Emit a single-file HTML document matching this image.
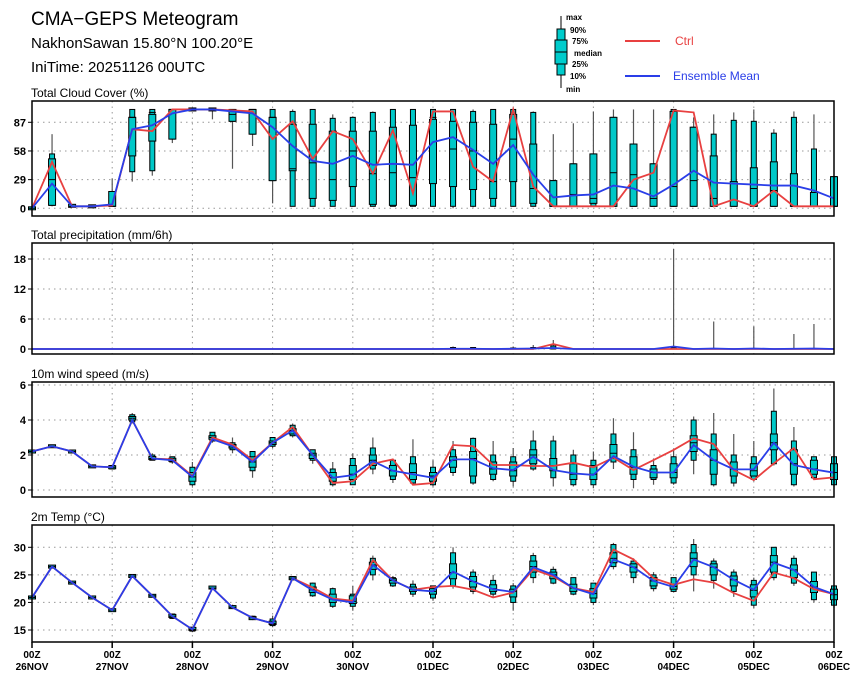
<!DOCTYPE html>
<html><head><meta charset="utf-8"><style>
body{margin:0;background:#fff;}
svg{display:block;font-family:"Liberation Sans",sans-serif;}
</style></head><body>
<svg id="chart" width="860" height="680" viewBox="0 0 860 680" xmlns="http://www.w3.org/2000/svg">
<text x="31" y="25" font-size="19">CMA−GEPS Meteogram</text>
<text x="31" y="48" font-size="15">NakhonSawan 15.80°N 100.20°E</text>
<text x="31" y="72" font-size="15">IniTime: 20251126 00UTC</text>
<g>
<line x1="561" y1="16" x2="561" y2="88" stroke="#000"/>
<rect x="557" y="29" width="8" height="46" fill="#00cccc" stroke="#000"/>
<rect x="555" y="40" width="12" height="24" fill="#00cccc" stroke="#000"/>
<line x1="555" y1="52" x2="567" y2="52" stroke="#000"/>
<g font-size="8" font-weight="bold">
<text x="566" y="20">max</text><text x="570" y="33">90%</text><text x="572" y="44">75%</text>
<text x="574" y="56">median</text><text x="572" y="67">25%</text><text x="570" y="79">10%</text><text x="566" y="92">min</text></g>
</g>
<line x1="625" y1="41" x2="660" y2="41" stroke="#e84040" stroke-width="2"/>
<text x="675" y="45" font-size="12" fill="#e84040">Ctrl</text>
<line x1="625" y1="76" x2="660" y2="76" stroke="#2a3ee8" stroke-width="2"/>
<text x="673" y="80" font-size="12" fill="#2a3ee8">Ensemble Mean</text>
</svg>
<script>
const dayLabels=["26NOV","27NOV","28NOV","29NOV","30NOV","01DEC","02DEC","03DEC","04DEC","05DEC","06DEC"];
const cloudTicks=[0,29,58,87];
const precipTicks=[0,6,12,18];
const windTicks=[0,2,4,6];
const tempTicks=[15,20,25,30];

const cloudCtrl=[0,47,2,2,3,80,78,100,100,100,99,98,70,88,50,78,70,35,79,15,98,98,42,27,100,22,2,2,2,2,29,36,99,97,2,9,2,18,2,2,2];
const cloudMean=[0,25,2,2,4,80,84,96,100,100,98,96,82,63,48,45,53,44,45,44,67,72,59,45,64,34,11,13,14,23,20,12,24,38,26,25,24,23,23,18,10];
const cloudMin=[0,2,2,2,2,27,33,66,100,90,40,63,5,2,2,2,2,2,2,2,2,0,1,2,2,2,2,2,2,2,2,2,2,2,2,2,2,2,2,2,2];
const cloudP10=[0,3,2,2,2,37,38,70,100,100,88,75,28,2,2,2,2,2,2,2,2,2,2,2,2,2,2,2,2,2,2,2,2,2,2,2,2,2,2,2,2];
const cloudP25=[0,3,2,2,2,53,68,70,100,100,88,75,28,38,10,8,22,4,3,3,25,22,19,10,27,5,2,2,5,2,2,2,2,2,2,2,2,2,2,2,2];
const cloudMed=[0,29,2,2,2,92,97,100,100,100,95,100,92,40,46,29,58,35,36,31,92,60,58,27,70,20,2,14,10,36,34,10,22,28,10,25,20,18,2,2,2];
const cloudP75=[0,50,3,2,17,92,95,100,100,100,100,100,92,85,85,78,78,78,82,84,90,88,87,85,95,65,28,45,55,92,65,45,98,82,53,27,41,47,35,16,32];
const cloudP90=[0,55,3,2,17,100,100,100,100,100,100,100,100,98,100,91,92,97,100,100,100,100,98,100,100,97,28,45,55,92,65,45,100,82,75,89,88,76,92,60,32];
const cloudMax=[0,75,3,2,30,100,100,100,100,100,100,100,100,100,100,95,93,98,100,100,100,100,100,100,100,98,75,86,98,100,100,100,100,92,95,97,100,80,98,95,32];

const precCtrl=[0,0,0,0,0,0,0,0,0,0,0,0,0,0,0,0,0,0,0,0,0,0,0,0,0,0,1.0,0,0,0,0,0,0,0,0,0,0,0,0,0,0];
const precMean=[0,0,0,0,0,0,0,0,0,0,0,0,0,0,0,0,0,0,0,0,0,0.05,0.05,0,0.05,0.1,0.2,0,0,0,0,0,0.5,0,0.1,0,0.1,0,0.05,0.1,0];
const precP90=[0,0,0,0,0,0,0,0,0,0,0,0,0,0,0,0,0,0,0,0,0,0.3,0.3,0,0.2,0.3,0.6,0,0,0,0,0,0.3,0,0,0,0,0,0,0,0];
const precMax=[0,0,0,0,0,0,0,0,0,0,0,0,0,0,0,0,0,0,0,0,0,0.5,0.4,0,0.5,0.8,1.8,0,0,0,0,0,20,0,5.5,0,4.5,0,3,5,0];

const windCtrl=[2.2,2.5,2.2,1.35,1.3,4.0,1.8,1.75,0.8,3.0,2.6,1.7,2.7,3.6,2.0,0.4,0.5,1.5,1.75,0.3,0.4,2.57,2.5,1.43,1.43,1.37,1.37,1.56,1.3,1.85,1.14,1.71,2.29,2.95,2.63,1.14,0.57,1.52,2.4,0.61,0.72];
const windMean=[2.2,2.5,2.2,1.35,1.3,4.0,1.8,1.7,0.75,2.9,2.5,1.6,2.7,3.4,2.0,0.7,0.85,1.65,1.1,0.9,0.7,1.75,1.75,1.24,1.14,1.9,1.14,0.95,0.86,1.94,1.33,1.0,1.0,2.57,1.71,1.18,1.18,2.7,1.43,1.18,0.99];
const windMin=[2.2,2.5,2.2,1.35,1.2,3.8,1.7,1.5,0.2,2.7,2.1,0.7,2.4,3.0,1.5,0.2,0.3,0.9,0.4,0.3,0.2,0.8,0.3,0.5,0.2,1.1,0.2,0.2,0.1,1.2,0.1,0.3,0.3,0.9,0.2,0.2,0.5,1.4,0.2,0.6,0.2];
const windP10=[2.2,2.5,2.2,1.35,1.2,3.9,1.7,1.6,0.3,2.8,2.3,1.1,2.5,3.1,1.7,0.3,0.3,1.2,0.6,0.4,0.3,1.0,0.4,0.6,0.5,1.2,0.7,0.3,0.3,1.6,0.6,0.6,0.4,1.7,0.3,0.4,0.6,1.5,0.3,0.7,0.3];
const windP25=[2.2,2.5,2.2,1.35,1.25,4.0,1.75,1.65,0.5,2.9,2.4,1.3,2.6,3.2,1.8,0.5,0.6,1.4,0.8,0.6,0.5,1.3,0.8,0.9,0.8,1.5,1.1,0.6,0.6,1.8,0.9,0.7,0.7,2.2,0.9,0.8,0.8,2.3,0.9,0.9,0.6];
const windMed=[2.2,2.5,2.2,1.35,1.3,4.1,1.8,1.7,0.75,3.0,2.5,1.6,2.7,3.4,2.0,0.7,0.9,1.7,1.1,1.0,0.8,1.7,1.8,1.2,1.1,2.0,1.4,0.9,0.9,2.1,1.3,1.0,1.0,2.7,1.7,1.2,1.1,2.7,1.5,1.2,1.0];
const windP75=[2.2,2.5,2.2,1.35,1.35,4.2,1.9,1.8,1.0,3.1,2.6,1.9,2.8,3.5,2.1,1.0,1.4,2.0,1.4,1.5,1.0,1.9,2.2,1.6,1.6,2.3,1.8,1.5,1.4,2.6,1.9,1.2,1.5,3.1,2.3,1.6,1.5,3.2,2.3,1.7,1.5];
const windP90=[2.2,2.5,2.2,1.35,1.4,4.3,2.0,1.9,1.3,3.3,2.7,2.2,3.0,3.7,2.3,1.2,1.8,2.4,1.7,1.9,1.3,2.3,2.95,2.0,1.9,2.8,2.8,2.0,1.7,3.2,2.3,1.4,1.9,4.0,3.2,2.0,1.9,4.5,2.8,1.9,1.9];
const windMax=[2.2,2.5,2.2,1.35,1.4,4.4,2.1,1.9,1.6,3.3,3.0,2.2,3.0,3.8,2.3,1.6,2.1,3.0,1.8,2.9,1.7,2.8,3.0,2.8,2.4,3.4,3.1,2.3,2.2,4.1,3.3,1.8,2.3,4.2,4.4,3.2,2.8,5.8,3.6,1.9,1.9];

const tempCtrl=[20.9,26.5,23.6,20.9,18.6,24.8,21.2,17.5,15.1,22.6,19.1,17.2,16.2,24.4,22.7,20.7,20.3,27.7,24.0,22.3,22.8,23.0,22.3,20.9,21.8,26.0,24.7,22.6,21.9,29.6,27.8,24.4,23.2,24.2,23.6,21.7,20.3,25.4,24.4,22.4,21.5];
const tempMean=[20.9,26.5,23.6,20.9,18.6,24.8,21.2,17.5,15.1,22.6,19.1,17.2,16.2,24.4,22.2,20.5,20.0,26.8,24.0,22.3,22.0,25.6,23.8,22.4,21.9,26.4,25.0,22.6,21.5,27.8,26.4,23.9,22.8,27.8,26.4,24.1,22.3,27.2,25.9,22.8,21.5];
const tempMin=[20.9,26.5,23.6,20.9,18.6,24.8,21.2,17.0,14.6,22.4,18.8,16.8,15.5,24.0,21.0,19.0,18.5,24.0,22.8,21.0,20.3,22.5,21.5,21.0,18.5,23.5,23.3,21.3,19.5,26.0,23.5,22.0,21.8,22.0,22.5,21.0,19.0,24.0,23.0,20.0,19.0];
const tempP10=[20.9,26.5,23.6,20.9,18.6,24.8,21.2,17.1,14.8,22.5,18.9,16.9,15.8,24.1,21.2,19.3,19.3,25.0,23.0,21.5,20.8,23.0,22.0,21.5,20.0,24.5,23.5,21.5,20.0,26.5,24.5,22.5,22.0,25.0,24.0,22.0,19.5,24.5,23.5,20.5,19.5];
const tempP25=[20.9,26.5,23.6,20.9,18.6,24.8,21.2,17.3,15.0,22.6,19.0,17.0,16.0,24.2,21.8,20.0,19.8,26.0,23.5,22.0,21.5,24.3,22.8,22.0,21.0,25.5,24.3,22.0,20.8,27.2,25.5,23.0,22.4,26.5,25.0,23.0,21.0,25.5,24.5,21.8,20.5];
const tempMed=[20.9,26.5,23.6,20.9,18.6,24.8,21.2,17.5,15.1,22.6,19.1,17.2,16.2,24.4,22.3,20.6,20.2,26.8,24.0,22.4,22.0,25.4,23.8,22.5,22.0,26.5,25.0,22.6,21.6,28.0,26.4,23.9,22.9,28.0,26.4,24.1,22.2,27.3,25.9,22.8,21.4];
const tempP75=[20.9,26.5,23.6,20.9,18.6,24.8,21.2,17.8,15.4,22.8,19.3,17.3,16.6,24.6,22.8,21.5,21.2,27.3,24.3,22.8,22.5,27.0,24.7,23.2,22.4,27.5,25.5,23.3,22.5,29.0,27.0,24.5,23.3,29.0,27.0,24.8,23.2,28.5,26.8,23.8,22.4];
const tempP90=[20.9,26.5,23.6,20.9,18.6,24.8,21.2,17.9,15.5,22.9,19.4,17.5,17.0,24.7,23.5,22.5,21.5,28.0,24.5,23.3,23.0,29.0,25.5,24.0,23.0,28.5,26.0,24.5,23.5,30.5,27.5,25.0,24.5,30.5,27.5,25.5,24.0,30.0,28.0,25.5,23.0];
const tempMax=[20.9,26.5,23.6,20.9,18.6,24.8,21.2,18.0,15.6,23.0,19.6,17.6,17.6,24.8,23.6,22.7,23.0,28.5,24.8,24.0,23.0,30.0,26.0,25.0,23.5,29.0,26.5,24.5,23.5,30.8,28.0,25.5,24.5,31.5,28.0,26.0,24.5,30.0,28.5,25.5,23.0];

const NS="http://www.w3.org/2000/svg";
const svg=document.getElementById("chart");
const X0=32,X1=834;
function xAt(i){return X0+(X1-X0)*i/40;}
function mk(tag,attrs,parent){const e=document.createElementNS(NS,tag);for(const k in attrs)e.setAttribute(k,attrs[k]);(parent||svg).appendChild(e);return e;}

function panel(cfg){
  const g=mk("g",{});
  
  
  const y=v=>cfg.y0-(v-cfg.v0)*(cfg.y0-cfg.y1)/(cfg.v1-cfg.v0);
  const t=mk("text",{x:31,y:cfg.top-4,"font-size":12},g);
  t.textContent=cfg.title;
  
  
  // grid
  for(let d=1;d<10;d++){mk("line",{x1:xAt(d*4),x2:xAt(d*4),y1:cfg.top,y2:cfg.bot,stroke:"#999","stroke-dasharray":"1.5,4"},g);}
  cfg.ticks.forEach(v=>{
    mk("line",{x1:X0,x2:X1,y1:y(v),y2:y(v),stroke:"#999","stroke-dasharray":"1.5,4"},g);
    mk("line",{x1:X0-4,x2:X0,y1:y(v),y2:y(v),stroke:"#000"},g);
    const l=mk("text",{x:X0-6,y:y(v)+4,"font-size":11,"font-weight":"bold","text-anchor":"end"},g);
    l.textContent=v;
    
    
  });
  // boxes
  for(let i=0;i<41;i++){
    const x=xAt(i);
    const bg=mk("g",{},g);
    
    
    if(cfg.max[i]>cfg.min[i]) mk("line",{x1:x,x2:x,y1:y(cfg.max[i]),y2:y(cfg.min[i]),stroke:"#555","stroke-width":1.2},bg);
    if(cfg.p90){
      let a=y(cfg.p90[i]),b=y(cfg.p10[i]); if(b-a<2){const m=(a+b)/2;a=m-1;b=m+1;}
      mk("rect",{x:x-2.5,y:a,width:5,height:b-a,fill:"#00c8c8",stroke:"#000","stroke-width":1},bg);
      let c=y(cfg.p75[i]),d=y(cfg.p25[i]); if(d-c<3){const m=(c+d)/2;c=m-1.5;d=m+1.5;}
      mk("rect",{x:x-3.5,y:c,width:7,height:d-c,fill:"#00c8c8",stroke:"#000","stroke-width":1},bg);
      mk("line",{x1:x-3.5,x2:x+3.5,y1:y(cfg.med[i]),y2:y(cfg.med[i]),stroke:"#000","stroke-width":1},bg);
    } else if(cfg.p90s && cfg.p90s[i]>0){
      mk("rect",{x:x-2.5,y:y(cfg.p90s[i]),width:5,height:y(0)-y(cfg.p90s[i]),fill:"#00c8c8",stroke:"#000"},bg);
    }
  }
  const line=(arr,col,nm)=>{
    const p=mk("polyline",{points:arr.map((v,i)=>xAt(i)+","+y(v)).join(" "),fill:"none",stroke:col,"stroke-width":1.8},g);
    
    
  };
  line(cfg.ctrl,"#e84040",cfg.name+'-ctrl-line');
  line(cfg.mean,"#2a3ee8",cfg.name+'-mean-line');
  mk("rect",{x:X0,y:cfg.top,width:X1-X0,height:cfg.bot-cfg.top,fill:"none",stroke:"#000","stroke-width":1.5},g);
  return y;
}
panel({name:"cloud-panel",title:"Total Cloud Cover (%)",top:101,bot:216,y0:208.3,v0:0,y1:122.3,v1:87,ticks:cloudTicks,
  ctrl:cloudCtrl,mean:cloudMean,min:cloudMin,p10:cloudP10,p25:cloudP25,med:cloudMed,p75:cloudP75,p90:cloudP90,max:cloudMax});
panel({name:"precip-panel",title:"Total precipitation (mm/6h)",top:243,bot:354,y0:349,v0:0,y1:259,v1:18,ticks:precipTicks,
  ctrl:precCtrl,mean:precMean,min:precCtrl.map(()=>0),max:precMax,p90s:precP90});
panel({name:"wind-panel",title:"10m wind speed (m/s)",top:382,bot:497,y0:490,v0:0,y1:385,v1:6,ticks:windTicks,
  ctrl:windCtrl,mean:windMean,min:windMin,p10:windP10,p25:windP25,med:windMed,p75:windP75,p90:windP90,max:windMax});
panel({name:"temp-panel",title:"2m Temp (°C)",top:525,bot:642,y0:630,v0:15,y1:547.3,v1:30,ticks:tempTicks,
  ctrl:tempCtrl,mean:tempMean,min:tempMin,p10:tempP10,p25:tempP25,med:tempMed,p75:tempP75,p90:tempP90,max:tempMax});
dayLabels.forEach((d,k)=>{
  const x=xAt(k*4);
  mk("line",{x1:x,x2:x,y1:642,y2:648,stroke:"#000","stroke-width":1.5});
  const a=mk("text",{x:x,y:658,"font-size":10,"font-weight":"bold","text-anchor":"middle"});
  a.textContent="00Z";
  
  
  const b=mk("text",{x:x,y:670,"font-size":10,"font-weight":"bold","text-anchor":"middle"});
  b.textContent=d;
  
  
});
</script>
</body></html>
